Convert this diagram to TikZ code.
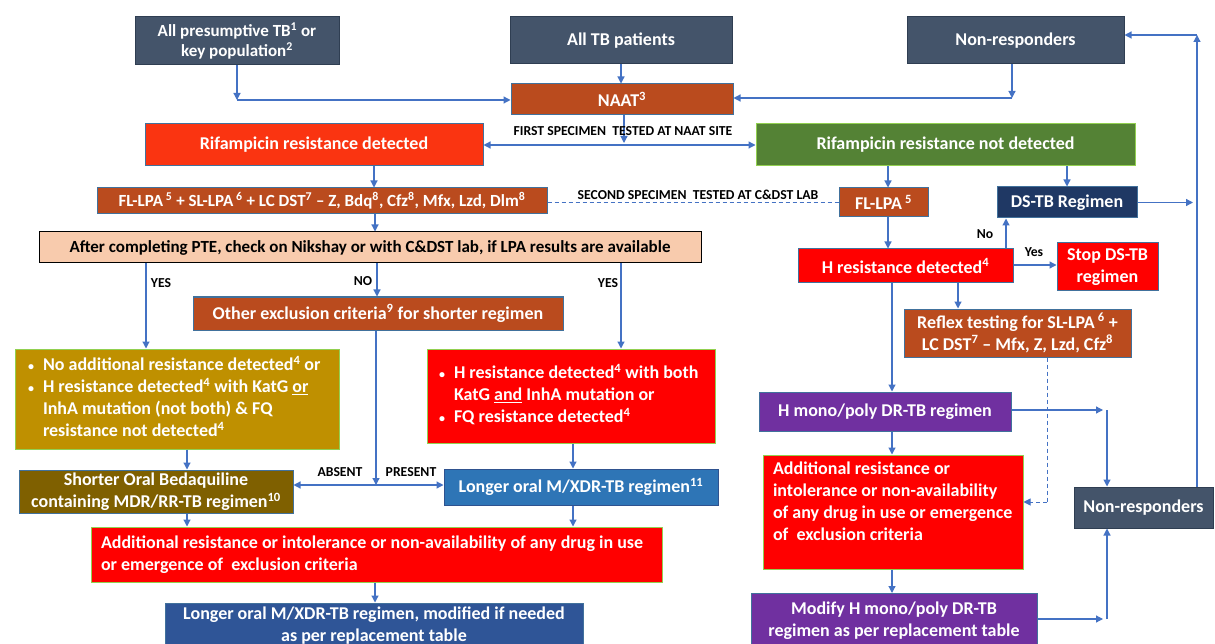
\documentclass[tikz,border=0pt]{standalone}
\usepackage{fontspec}
\setmainfont{Carlito}
\usetikzlibrary{arrows.meta}
\definecolor{slate}{RGB}{68,84,106}
\definecolor{slateb}{RGB}{47,62,82}
\definecolor{brn}{RGB}{186,75,30}
\definecolor{bbd}{RGB}{65,113,156}
\definecolor{dbd}{RGB}{47,82,143}
\definecolor{rorg}{RGB}{250,52,17}
\definecolor{grn}{RGB}{84,130,53}
\definecolor{lgrn}{RGB}{146,208,80}
\definecolor{navy}{RGB}{31,56,100}
\definecolor{peach}{RGB}{248,203,173}
\definecolor{gold}{RGB}{191,144,0}
\definecolor{olive}{RGB}{127,96,0}
\definecolor{lblue}{RGB}{46,117,182}
\definecolor{mblue}{RGB}{47,85,151}
\definecolor{purp}{RGB}{112,48,160}
\definecolor{conn}{RGB}{68,114,196}
\newcommand\mybul{\makebox[12pt][l]{\fontsize{12}{14}\selectfont\textbullet}}
\begin{document}
\begin{tikzpicture}[x=1pt,y=-1pt,
  bx/.style={draw, line width=1pt, text=white, font=\bfseries\fontsize{18}{22}\selectfont, align=center, inner sep=2pt},
  lbx/.style={bx, align=flush left},
  arr/.style={draw=conn, line width=1.2pt, -{Triangle[length=7pt,width=7pt]}},
  arrb/.style={draw=conn, line width=1.2pt, {Triangle[length=7pt,width=7pt]}-{Triangle[length=7pt,width=7pt]}},
  dsh/.style={draw=conn, line width=1pt, dash pattern=on 4pt off 3pt},
  lbl/.style={font=\bfseries\fontsize{13.7}{15}\selectfont, text=black, inner sep=1pt}]
\path[use as bounding box] (0,0) rectangle (1215,644);
\fill[white] (0,0) rectangle (1215,644);
\clip (0,0) rectangle (1215,644);

% top row
\node[bx, fill=slate, draw=slateb, minimum width=204pt, minimum height=48pt, font=\bfseries\fontsize{17}{20}\selectfont] (presum) at (237,41) {All presumptive TB\textsuperscript{1} or\\key population\textsuperscript{2}};
\node[bx, fill=slate, draw=slateb, minimum width=222pt, minimum height=47pt] (alltb) at (621,40.5) {All TB patients};
\node[bx, fill=slate, draw=slateb, minimum width=217pt, minimum height=47pt] (nr1) at (1015.5,40.5) {Non-responders};
\node[bx, fill=brn, draw=bbd, minimum width=222pt, minimum height=31pt] (naat) at (622,99.5) {NAAT\textsuperscript{3}};
\node[bx, fill=rorg, draw=bbd, minimum width=338pt, minimum height=42pt] (rifdet) at (314,145) {Rifampicin resistance detected};
\node[bx, fill=grn, draw=lgrn, minimum width=379pt, minimum height=42pt] (rifnot) at (945.5,145) {Rifampicin resistance not detected};

% left column
\node[bx, fill=brn, draw=bbd, minimum width=450pt, minimum height=26pt, font=\bfseries\fontsize{17}{20}\selectfont] (flc) at (322,201) {FL-LPA\,\textsuperscript{5} + SL-LPA\,\textsuperscript{6} + LC DST\textsuperscript{7} -- Z, Bdq\textsuperscript{8}, Cfz\textsuperscript{8}, Mfx, Lzd, Dlm\textsuperscript{8}};
\node[bx, fill=peach, draw=black, text=black, minimum width=662pt, minimum height=31pt, font=\bfseries\fontsize{17}{20}\selectfont] (after) at (370,247.5) {After completing PTE, check on Nikshay or with C\&DST lab, if LPA results are available};
\node[bx, fill=brn, draw=bbd, minimum width=370pt, minimum height=33pt] (oex) at (378,313.5) {Other exclusion criteria\textsuperscript{9} for shorter regimen};
\node[lbx, fill=gold, draw=lgrn, minimum height=100pt, text width=298pt, inner xsep=13pt] (gold) at (177,399) {\begin{tabular}{@{}l@{\hspace{3pt}}l@{}}\mybul & No additional resistance detected\textsuperscript{4} or\\ \mybul & H resistance detected\textsuperscript{4} with KatG \underline{or}\\ & InhA mutation (not both) \& FQ\\ & resistance not detected\textsuperscript{4}\end{tabular}};
\node[lbx, fill=red, draw=lgrn, minimum height=94pt, text width=264pt, inner xsep=12pt] (redb) at (571,396) {\begin{tabular}{@{}l@{\hspace{3pt}}l@{}}\mybul & H resistance detected\textsuperscript{4} with both\\ & KatG \underline{and} InhA mutation or\\ \mybul & FQ resistance detected\textsuperscript{4}\end{tabular}};
\node[bx, fill=olive, draw=bbd, minimum width=274pt, minimum height=43pt] (short) at (156,491.5) {Shorter Oral Bedaquiline\\containing MDR/RR-TB regimen\textsuperscript{10}};
\node[bx, fill=lblue, draw=dbd, minimum width=274pt, minimum height=36pt] (long) at (581,487) {Longer oral M/XDR-TB regimen\textsuperscript{11}};
\node[lbx, fill=red, draw=lgrn, minimum height=55pt, text width=551pt, inner xsep=10pt] (addl) at (376.5,554.5) {Additional resistance or intolerance or non-availability of any drug in use\\or emergence of\ \ exclusion criteria};
\node[bx, fill=mblue, draw=bbd, minimum width=418pt, minimum height=46pt] (final) at (374,626) {Longer oral M/XDR-TB regimen, modified if needed\\as per replacement table};

% right column
\node[bx, fill=brn, draw=bbd, minimum width=89pt, minimum height=29pt] (flpa) at (883.5,202.5) {FL-LPA\,\textsuperscript{5}};
\node[bx, fill=navy, draw=bbd, minimum width=140pt, minimum height=31pt] (dstb) at (1067,202.5) {DS-TB Regimen};
\node[bx, fill=red, draw=bbd, minimum width=215pt, minimum height=34pt] (hres) at (905.5,266) {H resistance detected\textsuperscript{4}};
\node[bx, fill=red, draw=bbd, minimum width=101pt, minimum height=48pt] (stop) at (1107.5,267) {Stop DS-TB\\regimen};
\node[bx, fill=brn, draw=bbd, minimum width=227pt, minimum height=48pt] (reflex) at (1017.5,333) {Reflex testing for SL-LPA\,\textsuperscript{6} +\\LC DST\textsuperscript{7} -- Mfx, Z, Lzd, Cfz\textsuperscript{8}};
\node[bx, fill=purp, draw=bbd, minimum width=252pt, minimum height=39pt] (hmono) at (885,411.5) {H mono/poly DR-TB regimen};
\node[lbx, fill=red, draw=lgrn, minimum height=114pt, text width=240pt, inner xsep=10pt, inner ysep=0pt] (addr) at (893,512) {Additional resistance or\\intolerance or non-availability\\of any drug in use or emergence\\of\ \ exclusion criteria\\ \mbox{}};
\node[bx, fill=purp, draw=bbd, minimum width=286pt, minimum height=55pt] (modify) at (894,621) {Modify H mono/poly DR-TB\\regimen as per replacement table};
\node[bx, fill=slate, draw=slateb, minimum width=139pt, minimum height=41pt] (nr2) at (1143.5,507.5) {Non-responders};

% helper coordinates
\coordinate (c146) at (146,0);
\coordinate (c187) at (187,0);
\coordinate (c374) at (374,0);
\coordinate (c375) at (375,0);
\coordinate (c377) at (377,0);
\coordinate (c573) at (573,0);
\coordinate (c621) at (621,0);
\coordinate (c888) at (888,0);
\coordinate (c892) at (892,0);
\coordinate (c958) at (958,0);
\coordinate (c1006) at (1006,0);
\coordinate (y265) at (0,265);
\coordinate (p1) at (237,100);
\coordinate (n1) at (1012,98);
\coordinate (f1) at (624,143);
\coordinate (r1) at (1193,202.5);
\coordinate (r2) at (1197,35);
\coordinate (j) at (376,485);
\coordinate (d1) at (1047,502);
\coordinate (h1) at (1103,410);
\coordinate (h2) at (1107,410);
\coordinate (m1) at (1103,619);
\coordinate (m2) at (1107,619);

% connectors top
\draw[arr] (presum.south) -- (p1);
\draw[arr] (p1) -- (naat.west |- p1);
\draw[arr] (alltb.south) -- (alltb.south |- naat.north);
\draw[arr] (nr1.south -| n1) -- (n1);
\draw[arr] (n1) -- (naat.east |- n1);
\draw[arr] (naat.south -| f1) -- (f1);
\draw[arrb] (rifdet.east) -- (rifnot.west);
\node[lbl] (l1) at (623,131) {FIRST SPECIMEN\ \ TESTED AT NAAT SITE};

% left connectors
\draw[arr] (rifdet.south -| c374) -- (flc.north -| c374);
\draw[dsh] (flc.east |- flpa.west) -- (flpa.west);
\node[lbl] (l2) at (698,195) {SECOND SPECIMEN\ \ TESTED AT C\&DST LAB};
\draw[arr] (flc.south -| c375) -- (after.north -| c375);
\draw[arr] (after.south -| c146) -- (gold.north -| c146);
\draw[arr] (after.south -| c377) -- (oex.north -| c377);
\draw[arr] (after.south -| c621) -- (redb.north -| c621);
\node[lbl] (ly1) at (161,283) {YES};
\node[lbl] (ln1) at (363,281) {NO};
\node[lbl] (ly2) at (608,283) {YES};
\draw[arr] (oex.south -| j) -- (j);
\draw[arr] (j) -- (short.east |- j);
\draw[arr] (j) -- (long.west |- j);
\node[lbl] (lab) at (340,472) {ABSENT};
\node[lbl] (lpr) at (411,472) {PRESENT};
\draw[arr] (gold.south -| c187) -- (short.north -| c187);
\draw[arr] (short.south -| c187) -- (addl.north -| c187);
\draw[arr] (redb.south -| c573) -- (long.north -| c573);
\draw[arr] (long.south -| c573) -- (addl.north -| c573);
\draw[arr] (addl.south -| c375) -- (final.north -| c375);

% right connectors
\draw[arr] (rifnot.south -| c888) -- (flpa.north -| c888);
\draw[arr] (rifnot.south -| dstb.north) -- (dstb.north);
\draw[arr] (dstb.east) -- (r1);
\draw[arr] (nr2.north -| r2) -- (r2);
\draw[arr] (r2) -- (nr1.east |- r2);
\draw[arr] (flpa.south -| c888) -- (hres.north -| c888);
\draw[arr] (hres.north -| c1006) -- (dstb.south -| c1006);
\node[lbl] (lno) at (985,234) {No};
\draw[arr] (hres.east |- y265) -- (stop.west |- y265);
\node[lbl] (lyes) at (1034,252) {Yes};
\draw[arr] (hres.south -| c958) -- (reflex.north -| c958);
\draw[arr] (hres.south -| c892) -- (hmono.north -| c892);
\draw[dsh] (reflex.south -| d1) -- (d1);
\draw[dsh, -{Triangle[length=7pt,width=7pt]}] (d1) -- (addr.east |- d1);
\draw[arr] (hmono.east |- h1) -- (h1);
\draw[arr] (h2) -- (nr2.north -| h2);
\draw[arr] (hmono.south -| c892) -- (addr.north -| c892);
\draw[arr] (addr.south -| c892) -- (modify.north -| c892);
\draw[arr] (modify.east |- m1) -- (m1);
\draw[arr] (m2) -- (nr2.south -| m2);
\end{tikzpicture}
\end{document}
